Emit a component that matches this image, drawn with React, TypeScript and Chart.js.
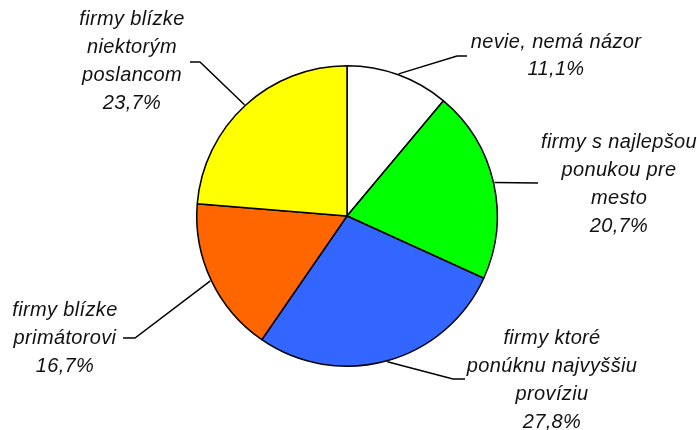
import React, { useEffect, useRef } from "react";
import { Chart, registerables } from "chart.js";

Chart.register(...registerables);

const categories: string[][] = [
  ["nevie, nemá názor"],
  ["firmy s najlepšou", "ponukou pre", "mesto"],
  ["firmy ktoré", "ponúknu najvyššiu", "províziu"],
  ["firmy blízke", "primátorovi"],
  ["firmy blízke", "niektorým", "poslancom"],
];
const values: number[] = [11.1, 20.7, 27.8, 16.7, 23.7];
const percentLabels: string[] = ["11,1%", "20,7%", "27,8%", "16,7%", "23,7%"];
const colors: string[] = ["#FFFFFF", "#00FF00", "#3366FF", "#FF6600", "#FFFF00"];

// layout: elbow point, end of horizontal, text center x, first line y, line height
const labelLayout = [
  { elbow: [457, 56], end: [467, 56], tx: 556, ty: 42, lh: 27 },
  { elbow: [538, 183], end: [538, 183], tx: 619, ty: 142, lh: 28 },
  { elbow: [453, 379], end: [465, 379], tx: 552, ty: 338, lh: 28 },
  { elbow: [135, 338], end: [123, 338], tx: 65, ty: 310, lh: 28 },
  { elbow: [200, 62], end: [190, 62], tx: 132, ty: 19, lh: 28 },
];

const labelPlugin = {
  id: "pieLabels",
  afterDatasetsDraw(chart: any) {
    const ctx = chart.ctx;
    const meta = chart.getDatasetMeta(0);
    ctx.save();
    meta.data.forEach((arc: any, i: number) => {
      const L = labelLayout[i];
      const mid = (arc.startAngle + arc.endAngle) / 2;
      const r = arc.outerRadius + 1;
      const sx = arc.x + Math.cos(mid) * r;
      const sy = arc.y + Math.sin(mid) * r;
      ctx.strokeStyle = "#000";
      ctx.lineWidth = 1.5;
      ctx.beginPath();
      ctx.moveTo(sx, sy);
      ctx.lineTo(L.elbow[0], L.elbow[1]);
      ctx.lineTo(L.end[0], L.end[1]);
      ctx.stroke();
      ctx.fillStyle = "#111";
      ctx.font = "italic 20px 'Liberation Sans', Arial, sans-serif";
      ctx.letterSpacing = "0.35px";
      ctx.textAlign = "center";
      ctx.textBaseline = "middle";
      const lines = [...categories[i], percentLabels[i]];
      lines.forEach((t, k) => {
        ctx.fillText(t, L.tx, L.ty + k * L.lh);
      });
    });
    ctx.restore();
  },
};

export default function App() {
  const ref = useRef<HTMLCanvasElement>(null);
  useEffect(() => {
    document.body.style.margin = "0";
    const chart = new Chart(ref.current!, {
      type: "pie",
      data: {
        labels: categories.map((c) => c.join(" ")),
        datasets: [
          {
            data: values,
            backgroundColor: colors,
            borderColor: "#000",
            borderWidth: 1.5,
          },
        ],
      },
      options: {
        responsive: false,
        animation: false,
        layout: { padding: { top: 65, bottom: 63, left: 0, right: 3 } },
        plugins: { legend: { display: false }, tooltip: { enabled: false } },
      },
      plugins: [labelPlugin],
    });
    return () => chart.destroy();
  }, []);
  return (
    <div style={{ position: "fixed", left: 0, top: 0, width: 697, height: 430, background: "#fff" }}>
      <canvas ref={ref} width={697} height={430} />
    </div>
  );
}
